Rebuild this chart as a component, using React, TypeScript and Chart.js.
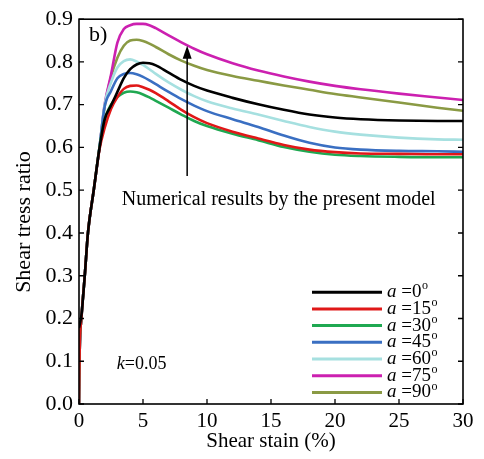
import React, { useEffect, useRef } from 'react';
import { Chart, registerables } from 'chart.js';

Chart.register(...registerables);

const FONT = "'Liberation Serif', 'Times New Roman', serif";

// Shear strain (%) sample positions
const strain = [0, 0.05, 0.2, 0.45, 0.7, 1.15, 1.6, 2, 2.5, 3, 3.5, 4, 4.5, 5, 5.5, 6, 7, 8, 9, 10, 12, 14, 16, 18, 20, 22, 25, 28, 30];

// Shear stress ratio for each inclination angle a
const a0 = [0.178, 0.185, 0.21, 0.30, 0.40, 0.50, 0.598, 0.665, 0.698, 0.73, 0.762, 0.783, 0.794, 0.798, 0.797, 0.792, 0.775, 0.758, 0.744, 0.733, 0.716, 0.701, 0.688, 0.677, 0.670, 0.666, 0.663, 0.662, 0.662];
const a15 = [0, 0.12, 0.205, 0.30, 0.40, 0.50, 0.595, 0.645, 0.69, 0.718, 0.737, 0.744, 0.745, 0.741, 0.735, 0.727, 0.708, 0.688, 0.671, 0.657, 0.637, 0.621, 0.606, 0.595, 0.589, 0.586, 0.585, 0.584, 0.584];
const a30 = [0, 0.12, 0.205, 0.30, 0.40, 0.50, 0.60, 0.665, 0.70, 0.718, 0.728, 0.731, 0.729, 0.724, 0.717, 0.709, 0.693, 0.677, 0.662, 0.65, 0.632, 0.617, 0.601, 0.590, 0.583, 0.580, 0.578, 0.577, 0.577];
const a45 = [0, 0.12, 0.205, 0.30, 0.40, 0.50, 0.60, 0.695, 0.732, 0.762, 0.772, 0.774, 0.771, 0.765, 0.757, 0.748, 0.73, 0.713, 0.698, 0.685, 0.666, 0.648, 0.628, 0.611, 0.600, 0.595, 0.592, 0.591, 0.590];
const a60 = [0, 0.12, 0.205, 0.30, 0.40, 0.50, 0.60, 0.70, 0.752, 0.787, 0.802, 0.806, 0.801, 0.793, 0.783, 0.772, 0.752, 0.735, 0.72, 0.708, 0.691, 0.677, 0.662, 0.648, 0.637, 0.630, 0.623, 0.619, 0.618];
const a75 = [0, 0.12, 0.205, 0.30, 0.40, 0.50, 0.60, 0.70, 0.77, 0.845, 0.877, 0.886, 0.889, 0.889, 0.886, 0.879, 0.862, 0.846, 0.831, 0.818, 0.797, 0.780, 0.766, 0.754, 0.744, 0.736, 0.726, 0.717, 0.711];
const a90 = [0, 0.12, 0.205, 0.30, 0.40, 0.50, 0.60, 0.695, 0.765, 0.81, 0.838, 0.85, 0.852, 0.849, 0.843, 0.835, 0.818, 0.803, 0.791, 0.781, 0.767, 0.756, 0.745, 0.735, 0.725, 0.717, 0.705, 0.693, 0.686];

const angles = ['0', '15', '30', '45', '60', '75', '90'];
const seriesValues = [a0, a15, a30, a45, a60, a75, a90];
const colors = ['#000000', '#e01818', '#1fa851', '#3a6fc2', '#a6e0e0', '#cc20b0', '#8a9a44'];

const xTicks = [0, 5, 10, 15, 20, 25, 30];
const yTicks = [0, 0.1, 0.2, 0.3, 0.4, 0.5, 0.6, 0.7, 0.8, 0.9];

const annotationText = 'Numerical results by the present model';
const panelLabel = 'b)';

const decorPlugin = {
  id: 'decor',
  afterDatasetsDraw(chart: any) {
    const { ctx, chartArea: a, scales } = chart;
    const xs = scales.x;
    const ys = scales.y;
    ctx.save();
    // frame
    ctx.strokeStyle = '#000';
    ctx.lineWidth = 1.6;
    ctx.strokeRect(a.left, a.top, a.right - a.left, a.bottom - a.top);
    // inward ticks
    const tl = 5;
    ctx.lineWidth = 1.3;
    ctx.beginPath();
    xTicks.forEach((v) => {
      const px = xs.getPixelForValue(v);
      ctx.moveTo(px, a.bottom);
      ctx.lineTo(px, a.bottom - tl);
    });
    yTicks.forEach((v) => {
      const py = ys.getPixelForValue(v);
      ctx.moveTo(a.left, py);
      ctx.lineTo(a.left + tl, py);
      ctx.moveTo(a.right, py);
      ctx.lineTo(a.right - tl, py);
    });
    ctx.stroke();

    // arrow
    const ax = xs.getPixelForValue(8.45);
    const ay0 = ys.getPixelForValue(0.533);
    const ay1 = ys.getPixelForValue(0.838);
    ctx.lineWidth = 1.5;
    ctx.beginPath();
    ctx.moveTo(ax, ay0);
    ctx.lineTo(ax, ay1 + 10);
    ctx.stroke();
    ctx.fillStyle = '#000';
    ctx.beginPath();
    ctx.moveTo(ax, ay1);
    ctx.lineTo(ax - 4.5, ay1 + 13);
    ctx.lineTo(ax + 4.5, ay1 + 13);
    ctx.closePath();
    ctx.fill();

    // annotation text
    ctx.font = `20px ${FONT}`;
    ctx.textAlign = 'center';
    ctx.textBaseline = 'middle';
    ctx.fillText(annotationText, xs.getPixelForValue(15.6), ys.getPixelForValue(0.478));

    // panel label
    ctx.font = `22px ${FONT}`;
    ctx.textAlign = 'left';
    ctx.textBaseline = 'alphabetic';
    ctx.fillText(panelLabel, a.left + 10, a.top + 22);

    // k = 0.05
    const kx = xs.getPixelForValue(2.95);
    const ky = ys.getPixelForValue(0.094);
    ctx.textBaseline = 'middle';
    ctx.font = `italic 18px ${FONT}`;
    ctx.fillText('k', kx, ky);
    const kw = ctx.measureText('k').width;
    ctx.font = `18px ${FONT}`;
    ctx.fillText('=0.05', kx + kw, ky);

    // legend
    const lx0 = a.left + 233;
    const lx1 = a.left + 303;
    const ly0 = a.top + 273;
    const step = 16.7;
    angles.forEach((ang, i) => {
      const y = ly0 + i * step;
      ctx.strokeStyle = colors[i];
      ctx.lineWidth = 3;
      ctx.beginPath();
      ctx.moveTo(lx0, y);
      ctx.lineTo(lx1, y);
      ctx.stroke();
      let tx = lx1 + 5;
      ctx.fillStyle = '#000';
      ctx.textBaseline = 'middle';
      ctx.font = `italic 19px ${FONT}`;
      ctx.fillText('a', tx, y);
      tx += ctx.measureText('a').width;
      ctx.font = `19px ${FONT}`;
      const s = ' =' + ang;
      ctx.fillText(s, tx, y);
      tx += ctx.measureText(s).width;
      ctx.font = `12px ${FONT}`;
      ctx.fillText('o', tx + 0.5, y - 6);
    });

    // y axis title
    ctx.save();
    ctx.translate(24, 222);
    ctx.rotate(-Math.PI / 2);
    ctx.font = `22px ${FONT}`;
    ctx.textAlign = 'center';
    ctx.textBaseline = 'middle';
    ctx.fillStyle = '#000';
    ctx.fillText('Shear tress ratio', 0, 0);
    ctx.restore();

    ctx.restore();
  },
};

export default function App() {
  const ref = useRef<HTMLCanvasElement | null>(null);

  useEffect(() => {
    if (!ref.current) return;
    const chart = new Chart(ref.current, {
      type: 'line',
      data: {
        datasets: seriesValues.map((vals, i) => ({
          label: 'a =' + angles[i] + '°',
          data: vals.map((v, j) => ({ x: strain[j], y: v })),
          borderColor: colors[i],
          backgroundColor: colors[i],
          borderWidth: 2.6,
          pointRadius: 0,
          cubicInterpolationMode: 'monotone' as const,
          fill: false,
        })),
      },
      options: {
        responsive: false,
        animation: false,
        layout: { padding: { left: 0, right: 21, top: 14, bottom: 0 } },
        plugins: {
          legend: { display: false },
          tooltip: { enabled: false },
        },
        scales: {
          x: {
            type: 'linear',
            min: 0,
            max: 30,
            grid: { display: false, drawTicks: false },
            border: { display: false },
            afterBuildTicks: (s: any) => {
              s.ticks = xTicks.map((v) => ({ value: v }));
            },
            afterFit: (s: any) => {
              s.height = 55;
            },
            ticks: {
              color: '#000',
              padding: 5,
              maxRotation: 0,
              font: { family: FONT, size: 21 },
              callback: (v: any) => String(v),
            },
            title: {
              display: true,
              text: 'Shear stain (%)',
              color: '#000',
              font: { family: FONT, size: 21 },
              padding: { top: 0, bottom: 5 },
            },
          },
          y: {
            type: 'linear',
            min: 0,
            max: 0.9,
            grid: { display: false, drawTicks: false },
            border: { display: false },
            afterBuildTicks: (s: any) => {
              s.ticks = yTicks.map((v) => ({ value: v }));
            },
            afterFit: (s: any) => {
              s.width = 79;
            },
            ticks: {
              color: '#000',
              padding: 6,
              font: { family: FONT, size: 22 },
              callback: (v: any) => Number(v).toFixed(1),
            },
          },
        },
      },
      plugins: [decorPlugin],
    });
    return () => chart.destroy();
  }, []);

  return (
    <div style={{ position: 'absolute', left: 0, top: 0, width: 484, height: 459, background: '#fff' }}>
      <canvas ref={ref} width={484} height={459} style={{ display: 'block' }} />
    </div>
  );
}
